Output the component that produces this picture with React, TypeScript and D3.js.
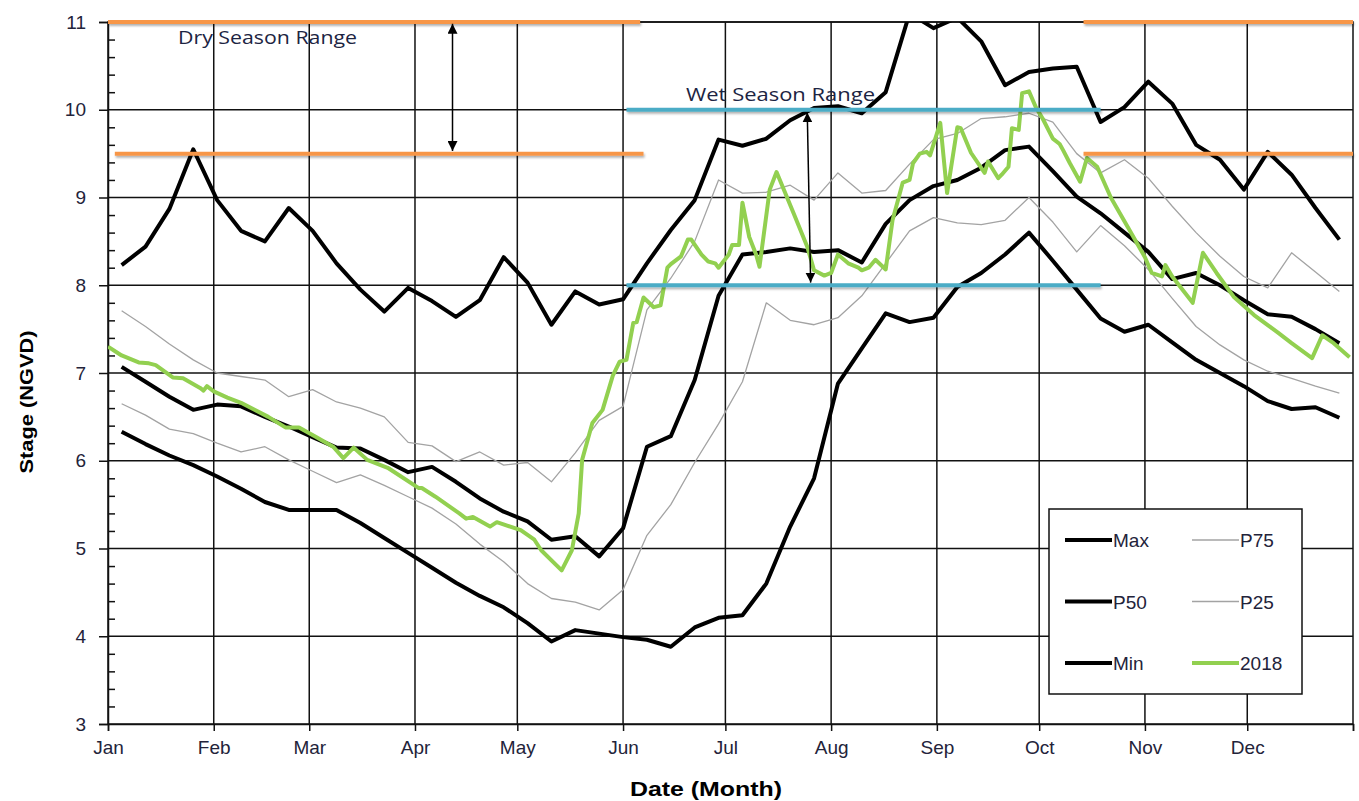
import React, { useEffect, useRef } from 'react';
import * as d3 from 'd3';

const YEAR = 2018;
const MONTHS = ['Jan', 'Feb', 'Mar', 'Apr', 'May', 'Jun', 'Jul', 'Aug', 'Sep', 'Oct', 'Nov', 'Dec'];
const Y_TICKS = [3, 4, 5, 6, 7, 8, 9, 10, 11];

// day of year (0 = Jan 1) of each weekly statistic
const WEEK_DAYS = [
  4, 11, 18, 25, 32, 39, 46, 53, 60, 67, 74, 81, 88, 95, 102, 109, 116, 123, 130, 137,
  144, 151, 158, 165, 172, 179, 186, 193, 200, 207, 214, 221, 228, 235, 242, 249, 256,
  263, 270, 277, 284, 291, 298, 305, 312, 319, 326, 333, 340, 347, 354, 361,
];

const MAX = [
  8.23, 8.44, 8.87, 9.55, 8.97, 8.62, 8.5, 8.88, 8.62, 8.25, 7.95, 7.7, 7.97, 7.82, 7.64,
  7.83, 8.32, 8.03, 7.55, 7.93, 7.78, 7.84, 8.25, 8.63, 8.97, 9.66, 9.59, 9.67, 9.88, 10.02,
  10.04, 9.96, 10.2, 11.1, 10.93, 11.05, 10.78, 10.28, 10.43, 10.47, 10.49, 9.86, 10.03,
  10.32, 10.07, 9.6, 9.43, 9.09, 9.52, 9.26, 8.88, 8.52,
];
const P75 = [
  7.71, 7.53, 7.33, 7.15, 7.0, 6.96, 6.92, 6.73, 6.81, 6.67, 6.6, 6.5, 6.21, 6.17, 5.99,
  6.1, 5.95, 5.98, 5.76, 6.09, 6.46, 6.62, 7.72, 8.08, 8.5, 9.2, 9.05, 9.06, 9.14, 8.97,
  9.28, 9.05, 9.08, 9.38, 9.66, 9.73, 9.9, 9.92, 9.96, 9.86, 9.5, 9.28, 9.43, 9.22, 8.9,
  8.6, 8.33, 8.1, 7.97, 8.37, 8.15, 7.93,
];
const P50 = [
  7.07, 6.9, 6.73, 6.58, 6.64, 6.62, 6.5, 6.39, 6.27, 6.15, 6.14, 6.01, 5.87, 5.93, 5.76,
  5.57, 5.42, 5.31, 5.1, 5.14, 4.91, 5.23, 6.16, 6.28, 6.92, 7.88, 8.35, 8.38, 8.42, 8.38,
  8.4, 8.26, 8.7, 8.97, 9.13, 9.2, 9.34, 9.54, 9.58, 9.3, 9.01, 8.82, 8.6, 8.38, 8.07,
  8.14, 8.0, 7.83, 7.67, 7.64, 7.5, 7.34,
];
const P25 = [
  6.65, 6.52, 6.36, 6.31, 6.2, 6.1, 6.16, 6.01, 5.88, 5.75, 5.84, 5.72, 5.59, 5.46, 5.28,
  5.05, 4.85, 4.6, 4.43, 4.39, 4.3, 4.53, 5.15, 5.5, 5.98, 6.42, 6.9, 7.8, 7.6, 7.55, 7.63,
  7.88, 8.25, 8.62, 8.77, 8.71, 8.69, 8.74, 9.0, 8.72, 8.38, 8.68, 8.45, 8.18, 7.85, 7.53,
  7.32, 7.15, 7.02, 6.94, 6.85, 6.77,
];
const MIN = [
  6.33, 6.19, 6.06, 5.95, 5.82, 5.68, 5.53, 5.44, 5.44, 5.44, 5.29, 5.12, 4.95, 4.78, 4.61,
  4.46, 4.33, 4.15, 3.94, 4.07, 4.03, 3.99, 3.96, 3.88, 4.1, 4.21, 4.24, 4.6, 5.25, 5.8,
  6.88, 7.28, 7.68, 7.58, 7.63, 7.98, 8.14, 8.35, 8.6, 8.28, 7.95, 7.62, 7.47, 7.55, 7.35,
  7.15, 7.0, 6.85, 6.68, 6.59, 6.61, 6.49,
];

// 2018 stage record
const Y2018_DAYS = [
  0, 4, 9, 12, 14, 19, 22, 27, 28, 29, 31, 35, 39, 47, 52, 56, 61, 66, 69, 72, 76, 82, 91,
  92, 96, 103, 105, 107, 112, 114, 121, 125, 127, 133, 136, 138, 139, 142, 145, 148, 150,
  152, 154, 155, 157, 160, 162, 164, 165, 168, 170, 171, 174, 176, 178, 179, 182, 183, 185,
  186, 188, 190, 191, 194, 196, 201, 205, 207, 210, 212, 214, 217, 220, 221, 223, 225, 228,
  230, 233, 235, 236, 238, 240, 241, 244, 246, 249, 250, 253, 257, 258, 261, 262, 264, 265,
  267, 268, 270, 272, 274, 277, 279, 280, 282, 285, 287, 290, 294, 299, 304, 306, 309, 310,
  312, 318, 321, 325, 330, 336, 343, 347, 353, 356, 359, 364,
];
const Y2018 = [
  7.3, 7.2, 7.12, 7.11, 7.09, 6.95, 6.94, 6.83, 6.8, 6.85, 6.79, 6.72, 6.66, 6.5, 6.38, 6.38,
  6.27, 6.16, 6.03, 6.15, 6.01, 5.92, 5.69, 5.69, 5.59, 5.4, 5.34, 5.36, 5.25, 5.3, 5.21,
  5.1, 4.98, 4.75, 4.98, 5.4, 6.01, 6.43, 6.58, 6.97, 7.13, 7.15, 7.57, 7.58, 7.86, 7.75,
  7.77, 8.2, 8.24, 8.33, 8.52, 8.52, 8.35, 8.27, 8.25, 8.2, 8.35, 8.46, 8.46, 8.94, 8.55,
  8.35, 8.21, 9.09, 9.29, 8.82, 8.44, 8.17, 8.11, 8.14, 8.35, 8.25, 8.2, 8.17, 8.2, 8.29,
  8.18, 8.74, 9.17, 9.2, 9.39, 9.5, 9.52, 9.48, 9.85, 9.05, 9.8, 9.79, 9.51, 9.28, 9.41,
  9.22, 9.26, 9.35, 9.79, 9.77, 10.19, 10.21, 10.03, 9.9, 9.67, 9.61, 9.54, 9.39, 9.18,
  9.45, 9.35, 9.0, 8.66, 8.32, 8.14, 8.1, 8.23, 8.1, 7.8, 8.37, 8.14, 7.87, 7.66, 7.46,
  7.34, 7.17, 7.43, 7.35, 7.18,
];

// season range guide lines: [start day, end day, stage]
const DRY_LINES = [
  [0, 156, 11],
  [2, 157, 9.5],
  [286, 365, 11],
  [286, 365, 9.5],
];
const WET_LINES = [
  [152, 291, 10],
  [152, 291, 8],
];
// double arrows: [day top, stage top, day bottom, stage bottom]
const DRY_ARROW = [101, 10.98, 101, 9.53];
const WET_ARROW = [205, 9.97, 206, 8.03];

const SERIES = [
  { name: 'P75', values: P75, color: '#a3a3a3', width: 1.3 },
  { name: 'P25', values: P25, color: '#a3a3a3', width: 1.3 },
  { name: 'Max', values: MAX, color: '#000000', width: 4 },
  { name: 'P50', values: P50, color: '#000000', width: 4 },
  { name: 'Min', values: MIN, color: '#000000', width: 4 },
];
const GREEN = '#92d050';
const ORANGE = '#f79646';
const BLUE = '#4bacc6';

const LEGEND = [
  { name: 'Max', color: '#000000', width: 4 },
  { name: 'P75', color: '#a3a3a3', width: 1.3 },
  { name: 'P50', color: '#000000', width: 4 },
  { name: 'P25', color: '#a3a3a3', width: 1.3 },
  { name: 'Min', color: '#000000', width: 4 },
  { name: '2018', color: GREEN, width: 4 },
];

const TEXT = '#23233a';
const FONT = '"Liberation Sans", Arial, sans-serif';

function App() {
  const svgRef = useRef<SVGSVGElement>(null);

  useEffect(() => {
    const svg = d3.select(svgRef.current);
    svg.selectAll('*').remove();

    const left = 108;
    const right = 1353;
    const top = 22;
    const bottom = 724;

    const start = new Date(Date.UTC(YEAR, 0, 1));
    const end = new Date(Date.UTC(YEAR + 1, 0, 1));
    const day = (d: number) => d3.utcDay.offset(start, d);

    const x = d3.scaleUtc().domain([start, end]).range([left, right]);
    const y = d3.scaleLinear().domain([3, 11]).range([bottom, top]);

    const defs = svg.append('defs');
    defs
      .append('clipPath')
      .attr('id', 'plot-clip')
      .append('rect')
      .attr('x', left)
      .attr('y', top)
      .attr('width', right - left)
      .attr('height', bottom - top);
    const shadow = defs.append('filter').attr('id', 'shade').attr('height', '300%').attr('y', '-100%');
    shadow
      .append('feDropShadow')
      .attr('dx', 1)
      .attr('dy', 2)
      .attr('stdDeviation', 1)
      .attr('flood-color', '#000')
      .attr('flood-opacity', 0.3);
    defs
      .append('marker')
      .attr('id', 'head')
      .attr('viewBox', '0 0 10 10')
      .attr('refX', 10)
      .attr('refY', 5)
      .attr('markerWidth', 10)
      .attr('markerHeight', 10)
      .attr('markerUnits', 'userSpaceOnUse')
      .attr('orient', 'auto-start-reverse')
      .append('path')
      .attr('d', 'M0,0 L10,5 L0,10 z')
      .attr('fill', '#000');

    svg.append('rect').attr('width', 1359).attr('height', 801).attr('fill', '#fff');

    // gridlines
    const months = d3.utcMonth.range(start, end);
    const grid = svg.append('g').attr('stroke', '#111').attr('stroke-width', 1.5);
    months.slice(1).forEach((m) => {
      grid.append('line').attr('x1', x(m)).attr('x2', x(m)).attr('y1', top).attr('y2', bottom);
    });
    Y_TICKS.slice(1).forEach((v) => {
      grid.append('line').attr('x1', left).attr('x2', right).attr('y1', y(v)).attr('y2', y(v));
    });
    grid
      .append('rect')
      .attr('x', left)
      .attr('y', top)
      .attr('width', right - left)
      .attr('height', bottom - top)
      .attr('fill', 'none');

    // axes
    const minor = d3.range(3, 11.001, 0.2).filter((v) => Math.abs(v - Math.round(v)) > 0.01);
    const yAxis = d3
      .axisLeft(y)
      .tickValues(Y_TICKS)
      .tickSize(9)
      .tickPadding(13)
      .tickFormat(d3.format('d'));
    const gy = svg.append('g').attr('transform', `translate(${left},0)`).call(yAxis);
    svg
      .append('g')
      .attr('transform', `translate(${left},0)`)
      .call(d3.axisRight(y).tickValues(minor).tickSize(7).tickFormat(() => ''))
      .call((g) => g.select('.domain').remove());

    const xAxis = d3
      .axisBottom(x)
      .tickValues([...months, end])
      .tickSize(7)
      .tickPadding(10)
      .tickFormat((d, i) => (i < MONTHS.length ? MONTHS[i] : ''));
    const gx = svg.append('g').attr('transform', `translate(0,${bottom})`).call(xAxis);

    svg.selectAll('.tick line, .domain').attr('stroke', '#111').attr('stroke-width', 1.5);
    [gx, gy].forEach((g) =>
      g.selectAll('text').attr('font-family', FONT).attr('font-size', 19).attr('fill', TEXT)
    );

    // axis titles
    svg
      .append('text')
      .attr('transform', 'translate(33,402) rotate(-90)')
      .attr('text-anchor', 'middle')
      .attr('font-family', FONT)
      .attr('font-weight', 'bold')
      .attr('font-size', 19)
      .attr('textLength', 143)
      .attr('lengthAdjust', 'spacingAndGlyphs')
      .text('Stage (NGVD)');
    svg
      .append('text')
      .attr('x', 706)
      .attr('y', 796)
      .attr('text-anchor', 'middle')
      .attr('font-family', FONT)
      .attr('font-weight', 'bold')
      .attr('font-size', 20)
      .attr('textLength', 152)
      .attr('lengthAdjust', 'spacingAndGlyphs')
      .text('Date (Month)');

    // data lines
    const plot = svg.append('g').attr('clip-path', 'url(#plot-clip)');
    const line = d3
      .line<number>()
      .x((_, i) => x(day(WEEK_DAYS[i])))
      .y((v) => y(v));
    SERIES.forEach((s) => {
      plot
        .append('path')
        .attr('d', line(s.values))
        .attr('fill', 'none')
        .attr('stroke', s.color)
        .attr('stroke-width', s.width)
        .attr('stroke-linejoin', 'round');
    });
    const greenLine = d3
      .line<number>()
      .x((_, i) => x(day(Y2018_DAYS[i])))
      .y((v) => y(v));
    plot
      .append('path')
      .attr('d', greenLine(Y2018))
      .attr('fill', 'none')
      .attr('stroke', GREEN)
      .attr('stroke-width', 4)
      .attr('stroke-linejoin', 'round');

    // season ranges
    const guides = svg.append('g').attr('filter', 'url(#shade)');
    DRY_LINES.forEach(([a, b, v]) => {
      guides
        .append('line')
        .attr('x1', x(day(a)))
        .attr('x2', x(day(b)))
        .attr('y1', y(v))
        .attr('y2', y(v))
        .attr('stroke', ORANGE)
        .attr('stroke-width', 4);
    });
    WET_LINES.forEach(([a, b, v]) => {
      guides
        .append('line')
        .attr('x1', x(day(a)))
        .attr('x2', x(day(b)))
        .attr('y1', y(v))
        .attr('y2', y(v))
        .attr('stroke', BLUE)
        .attr('stroke-width', 4);
    });
    [DRY_ARROW, WET_ARROW].forEach(([d1, v1, d2, v2]) => {
      svg
        .append('line')
        .attr('x1', x(day(d1)))
        .attr('y1', y(v1))
        .attr('x2', x(day(d2)))
        .attr('y2', y(v2))
        .attr('stroke', '#000')
        .attr('stroke-width', 1.5)
        .attr('marker-start', 'url(#head)')
        .attr('marker-end', 'url(#head)');
    });

    const note = (label: string, cx: number, cy: number, len: number) =>
      svg
        .append('text')
        .attr('x', cx)
        .attr('y', cy)
        .attr('font-family', '"Open Sans", sans-serif')
        .attr('font-size', 19)
        .attr('fill', '#1c2442')
        .attr('textLength', len)
        .attr('lengthAdjust', 'spacingAndGlyphs')
        .text(label);
    note('Dry Season Range', 178, 44, 179);
    note('Wet Season Range', 686, 101, 189);

    // legend
    const legend = svg.append('g').attr('transform', 'translate(1049,509)');
    legend
      .append('rect')
      .attr('width', 253)
      .attr('height', 185)
      .attr('fill', '#fff')
      .attr('stroke', '#111')
      .attr('stroke-width', 1.5);
    LEGEND.forEach((item, i) => {
      const col = i % 2;
      const row = Math.floor(i / 2);
      const lx = col === 0 ? 16 : 143;
      const ly = 31 + row * 61.5;
      legend
        .append('line')
        .attr('x1', lx)
        .attr('x2', lx + 47)
        .attr('y1', ly)
        .attr('y2', ly)
        .attr('stroke', item.color)
        .attr('stroke-width', item.width);
      legend
        .append('text')
        .attr('x', lx + 48)
        .attr('y', ly + 7)
        .attr('font-family', FONT)
        .attr('font-size', 19)
        .attr('fill', TEXT)
        .text(item.name);
    });
  }, []);

  return (
    <div style={{ position: 'absolute', left: 0, top: 0 }}>
      <svg ref={svgRef} width={1359} height={801} style={{ display: 'block' }} />
    </div>
  );
}

export default App;
